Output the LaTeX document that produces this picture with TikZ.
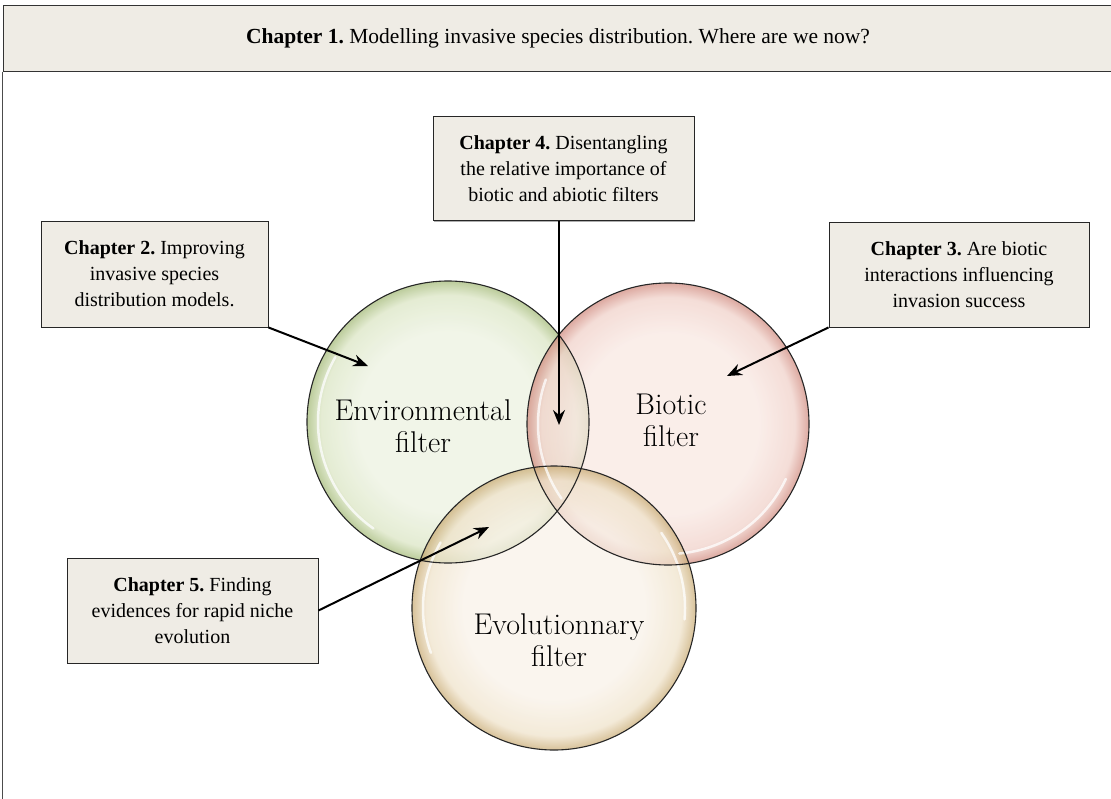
\documentclass[tikz,border=0pt]{standalone}
\usepackage{fontspec}
\newfontfamily\timesf{Liberation Serif}
\usetikzlibrary{arrows.meta,shadows}
\definecolor{boxfill}{HTML}{EFECE5}
\definecolor{gin}{HTML}{EEF3E4}
\definecolor{gmid}{HTML}{E0E9CC}
\definecolor{gedge}{HTML}{B0C38A}
\definecolor{rin}{HTML}{F8E7E1}
\definecolor{rmid}{HTML}{F0D0C8}
\definecolor{redge}{HTML}{CF887C}
\definecolor{ein}{HTML}{F8F1E7}
\definecolor{emid}{HTML}{EFE2C9}
\definecolor{eedge}{HTML}{C8AA72}
\pgfdeclareradialshading{gball}{\pgfpoint{0bp}{0bp}}{color(0bp)=(gin); color(16bp)=(gin); color(22.5bp)=(gmid); color(25bp)=(gedge); color(50bp)=(gedge)}
\pgfdeclareradialshading{rball}{\pgfpoint{0bp}{0bp}}{color(0bp)=(rin); color(16bp)=(rin); color(22.5bp)=(rmid); color(25bp)=(redge); color(50bp)=(redge)}
\pgfdeclareradialshading{eball}{\pgfpoint{0bp}{0bp}}{color(0bp)=(ein); color(16bp)=(ein); color(22.5bp)=(emid); color(25bp)=(eedge); color(50bp)=(eedge)}
\begin{document}
\frenchspacing
\begin{tikzpicture}[x=1pt,y=-1pt,
  chapbox/.style={draw=black!85, line width=0.9pt, fill=boxfill, align=center,
    font=\timesf\fontsize{20}{26}\selectfont, inner sep=0pt,
    drop shadow={shadow xshift=1.2pt, shadow yshift=-1.2pt, fill=black!45, opacity=0.7}},
  ball/.style={circle, minimum size=#1, inner sep=0pt},
  balltext/.style={align=center, font=\fontsize{30}{32}\selectfont, inner sep=0pt},
  arr/.style={line width=2pt, -{Stealth[length=15pt, width=12pt, inset=5pt]}},
  shine/.style={white, line width=2.5pt, opacity=0.75, line cap=round}]
\useasboundingbox (0,0) rectangle (1111,798);
% banner
\node[draw=black!80, line width=1pt, fill=boxfill, minimum width=1110pt, minimum height=66pt,
  inner sep=0pt, font=\timesf\fontsize{21.5}{24}\selectfont] (ch1) at (558,38)
  {\textbf{Chapter 1.} Modelling invasive species distribution. Where are we now?};
\coordinate (bl) at (3,800);
\draw[black!70, line width=1pt] (ch1.south west) -- (ch1.south west |- bl);
% circles
\node[ball=282pt] (env) at (448,422) {};
\node[ball=282pt] (bio) at (668,424) {};
\node[ball=284pt] (evo) at (554,608) {};
\shade[shading=gball, opacity=0.85] (env.center) circle[radius=141pt];
\shade[shading=rball, opacity=0.72] (bio.center) circle[radius=141pt];
\shade[shading=eball, opacity=0.72] (evo.center) circle[radius=142pt];
% highlights
\draw[shine] (env.center) ++(150:130pt) arc[start angle=150, end angle=235, radius=130pt];
\draw[shine] (bio.center) ++(160:130pt) arc[start angle=160, end angle=215, radius=130pt];
\draw[shine] (bio.center) ++(275:130pt) arc[start angle=275, end angle=335, radius=130pt];
\draw[shine] (evo.center) ++(150:131pt) arc[start angle=150, end angle=200, radius=131pt];
\draw[shine] (evo.center) ++(355:131pt) arc[start angle=355, end angle=395, radius=131pt];
\draw[black!85, line width=1.1pt] (env.center) circle[radius=141pt];
\draw[black!85, line width=1.1pt] (bio.center) circle[radius=141pt];
\draw[black!85, line width=1.1pt] (evo.center) circle[radius=142pt];
% circle labels
\node[balltext] (envt) at (423,426) {Environmental\\filter};
\node[balltext] (biot) at (671,420) {Biotic\\filter};
\node[balltext] (evot) at (559,640) {Evolutionnary\\filter};
% chapter boxes
\node[chapbox, minimum width=261pt, minimum height=104pt] (ch4) at (563.5,168.5)
  {\textbf{Chapter 4.} Disentangling\\the relative importance of\\biotic and abiotic filters};
\node[chapbox, minimum width=227pt, minimum height=106pt] (ch2) at (154.5,274)
  {\textbf{Chapter 2.} Improving\\invasive species\\distribution models.};
\node[chapbox, minimum width=260pt, minimum height=105pt] (ch3) at (959,274.5)
  {\textbf{Chapter 3.} Are biotic\\interactions influencing\\invasion success};
\node[chapbox, minimum width=251pt, minimum height=105pt] (ch5) at (192.5,610.5)
  {\textbf{Chapter 5.} Finding\\evidences for rapid niche\\evolution};
% arrows
\coordinate (t2) at (368,366);
\coordinate (t4) at (559,425);
\coordinate (t3) at (727,376);
\coordinate (t5) at (489,527);
\draw[arr] (ch2.south east) -- (t2);
\draw[arr] (ch4.south -| t4) -- (t4);
\draw[arr] (ch3.south west) -- (t3);
\draw[arr] (ch5.east) -- (t5);
\end{tikzpicture}
\end{document}
